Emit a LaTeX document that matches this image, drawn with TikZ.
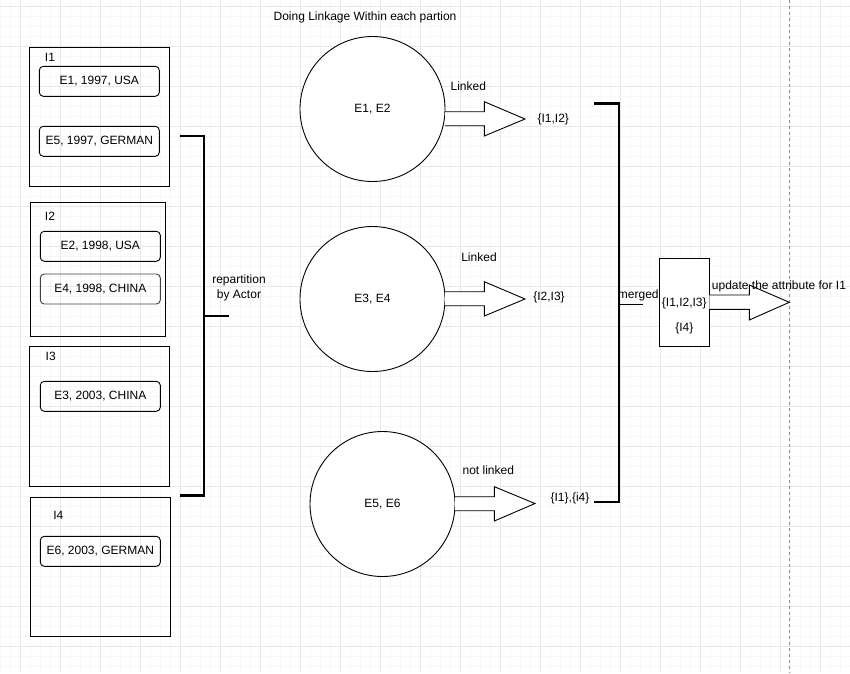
\documentclass[tikz,border=0pt]{standalone}
\usepackage{fontspec}
\setmainfont{Liberation Sans}
\begin{document}
\begin{tikzpicture}[x=1pt,y=-1pt,
  font=\fontsize{12}{14}\selectfont,
  every node/.style={inner sep=0pt},
  minorgrid/.style={draw=black!3,line width=0.6pt},
  majorgrid/.style={draw=black!9,line width=0.8pt},
  group/.style={draw=black,line width=1pt,anchor=north west},
  rec/.style={draw=black,line width=0.9pt,rounded corners=4pt,minimum width=120pt,minimum height=30pt},
  blob/.style={draw=black,line width=0.9pt,circle,minimum size=145pt,fill=white},
  bracket/.style={draw=black,line width=2.5pt},
  barrow/.style={draw=black,line width=0.9pt,fill=white},
  lbl/.style={}]
\useasboundingbox (0,0) rectangle (850,673);
\fill[white] (0,0) rectangle (850,673);
% grid
\foreach \x in {0,10,...,850} \draw[minorgrid] (\x,0) -- (\x,673);
\foreach \y in {6.7,16.7,...,673} \draw[minorgrid] (0,\y) -- (850,\y);
\foreach \x in {20,60,...,850} \draw[majorgrid] (\x,0) -- (\x,673);
\foreach \y in {6.7,46.7,...,673} \draw[majorgrid] (0,\y) -- (850,\y);
\draw[black!45,line width=0.8pt,dash pattern=on 3pt off 3pt] (789.3,0) -- (789.3,673);

% title
\node[lbl] (title) at (365,17) {Doing Linkage Within each partion};

% groups
\node[group,minimum width=140pt,minimum height=139.3pt] (g1) at (29.3,46.7) {};
\node[group,minimum width=135pt,minimum height=134.3pt] (g2) at (30.3,201.7) {};
\node[group,minimum width=140pt,minimum height=140pt] (g3) at (29.3,346) {};
\node[group,minimum width=140pt,minimum height=139.3pt] (g4) at (30.3,496.7) {};
\node (l1) at (50,57) {I1};
\node (l2) at (50,216.7) {I2};
\node (l3) at (50.7,356.7) {I3};
\node (l4) at (58.3,515) {I4};

\node[rec] (e1) at (99.3,81.3) {E1, 1997, USA};
\node[rec] (e5) at (99.3,141.3) {E5, 1997, GERMAN};
\node[rec] (e2) at (100.3,246.3) {E2, 1998, USA};
\node[rec,draw=black!75] (e4) at (100.3,289) {E4, 1998, CHINA};
\node[rec] (e3) at (100.3,396.3) {E3, 2003, CHINA};
\node[rec] (e6) at (100.3,551.3) {E6, 2003, GERMAN};

% left bracket
\coordinate (b1t) at (180,136);
\coordinate (b1tc) at (204,136);
\coordinate (b1b) at (180,495.7);
\coordinate (b1bc) at (204,495.7);
\coordinate (b1m) at (204,316);
\coordinate (b1e) at (229,316);
\draw[bracket] (b1t) -- (b1tc) -- (b1bc) -- (b1b);
\draw[bracket] (b1m) -- (b1e);
\node[align=center,font=\fontsize{12}{14.5}\selectfont] (rep) at (239,288) {repartition\\by Actor};

% circles
\node[blob] (c1) at (372.5,109) {E1, E2};
\node[blob] (c2) at (372.5,299) {E3, E4};
\node[blob] (c3) at (382.5,504) {E5, E6};

% block arrows
\draw[barrow] (445,111.7) -- (484.3,111.7) -- (484.3,101.7) -- (525,119) -- (484.3,136) -- (484.3,125.7) -- (445,125.7);
\draw[barrow] (445,291.7) -- (484.3,291.7) -- (484.3,281.7) -- (525,299) -- (484.3,316) -- (484.3,305.7) -- (445,305.7);
\draw[barrow] (455,496.7) -- (494.3,496.7) -- (494.3,486.7) -- (535,503.5) -- (494.3,521) -- (494.3,510.7) -- (455,510.7);

\node (lk1) at (468.3,86.7) {Linked};
\node (lk2) at (479,257) {Linked};
\node (lk3) at (488.3,470) {not linked};
\node (s1) at (553.3,119.3) {\{I1,I2\}};
\node (s2) at (549,297.3) {\{I2,I3\}};
\node (s3) at (570,498.3) {\{I1\},\{i4\}};

% right bracket
\coordinate (b2t) at (594,103.3);
\coordinate (b2tc) at (619,103.3);
\coordinate (b2b) at (594,502);
\coordinate (b2bc) at (619,502);
\coordinate (b2m) at (619,304);
\coordinate (b2e) at (643.3,304);
\draw[bracket] (b2t) -- (b2tc) -- (b2bc) -- (b2b);
\draw[black,line width=1pt] (b2m) -- (b2e);
\node (mg) at (638.3,295) {merged};

% merged box
\node[draw=black,line width=1pt,minimum width=50pt,minimum height=87.7pt,fill=white] (mb) at (684.3,302.2) {};
\node (m1) at (684.3,303.3) {\{I1,I2,I3\}};
\node (m2) at (684.3,328.3) {\{I4\}};

\draw[barrow] (709.3,295) -- (749.3,295) -- (749.3,285) -- (789.3,302.3) -- (749.3,320) -- (749.3,309.3) -- (709.3,309.3);
\node[anchor=west] (upd) at (711.7,286.7) {update the attribute for I1};
\end{tikzpicture}
\end{document}
